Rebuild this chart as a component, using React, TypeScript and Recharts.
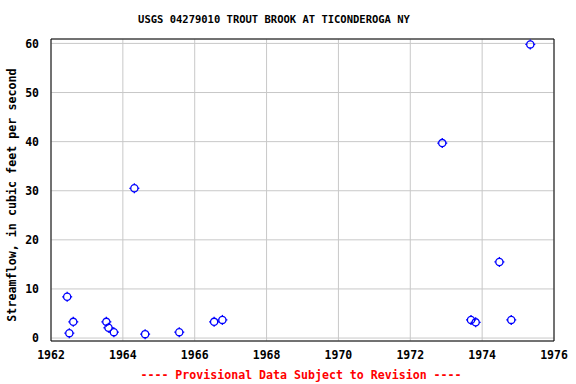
import { ReferenceArea, CartesianGrid, Scatter, ScatterChart, XAxis, YAxis } from 'recharts';

const title = 'USGS 04279010 TROUT BROOK AT TICONDEROGA NY';
const yLabel = 'Streamflow, in cubic feet per second';
const footer = '---- Provisional Data Subject to Revision ----';

// decimal year of each measurement
const years = [
  1962.45, 1962.51, 1962.62, 1963.54, 1963.6, 1963.75, 1964.32, 1964.62, 1965.57, 1966.54, 1966.77,
  1972.89, 1973.69, 1973.82, 1974.48, 1974.81, 1975.34,
];
// streamflow, cfs
const flows = [8.4, 1.0, 3.3, 3.3, 2.1, 1.2, 30.5, 0.8, 1.2, 3.3, 3.7, 39.7, 3.7, 3.2, 15.5, 3.7, 59.8];

const xTicks = [1962, 1964, 1966, 1968, 1970, 1972, 1974, 1976];
const yTicks = [0, 10, 20, 30, 40, 50, 60];

const data = years.map((year, i) => ({ year, flow: flows[i] }));

const FONT = '"DejaVu Sans Mono", monospace';

const Marker = (props: any) => {
  const { cx, cy } = props;
  return (
    <g stroke="#0000ff" strokeWidth={1.3} fill="none">
      <circle cx={cx} cy={cy} r={3.6} />
      <line x1={cx} y1={cy - 5} x2={cx} y2={cy - 3.6} />
      <line x1={cx} y1={cy + 3.6} x2={cx} y2={cy + 5} />
      <line x1={cx - 5} y1={cy} x2={cx - 3.6} y2={cy} />
      <line x1={cx + 3.6} y1={cy} x2={cx + 5} y2={cy} />
    </g>
  );
};

export default function App() {
  const tick = { fill: '#000', fontSize: 11.5, fontWeight: 'bold', fontFamily: FONT };
  return (
    <div style={{ position: 'absolute', left: 0, top: 0, width: 576, height: 384, background: '#fff', fontFamily: FONT }}>
      <div style={{ position: 'absolute', top: 13, left: 0, width: 548, textAlign: 'center', fontSize: 10.5, fontWeight: 'bold' }}>
        {title}
      </div>
      <ScatterChart width={576} height={384} margin={{ top: 39, right: 22, bottom: 23, left: 0 }}>
        <CartesianGrid stroke="#c8c8c8" strokeWidth={1} />
        <XAxis
          type="number"
          dataKey="year"
          domain={[1962, 1976]}
          ticks={xTicks}
          allowDataOverflow
          height={20}
          tickLine={false}
          axisLine={false}
          tick={tick}
          tickMargin={4}
        />
        <YAxis
          type="number"
          dataKey="flow"
          domain={[-0.6, 60.9]}
          ticks={yTicks}
          allowDataOverflow
          width={51}
          tickLine={false}
          axisLine={false}
          tick={tick}
          tickMargin={6}
        />
        <ReferenceArea x1={1962} x2={1976} y1={-0.6} y2={60.9} fill="none" stroke="#000" strokeWidth={1} />
        <Scatter data={data} shape={<Marker />} isAnimationActive={false} />
      </ScatterChart>
      <div
        style={{
          position: 'absolute',
          left: 12,
          top: 195,
          transform: 'translate(-50%, -50%) rotate(-90deg)',
          whiteSpace: 'nowrap',
          fontSize: 11.7,
          fontWeight: 'bold',
        }}
      >
        {yLabel}
      </div>
      <div
        style={{
          position: 'absolute',
          top: 368,
          left: 0,
          width: 602,
          textAlign: 'center',
          fontSize: 11.6,
          fontWeight: 'bold',
          color: '#ff0000',
        }}
      >
        {footer}
      </div>
    </div>
  );
}
